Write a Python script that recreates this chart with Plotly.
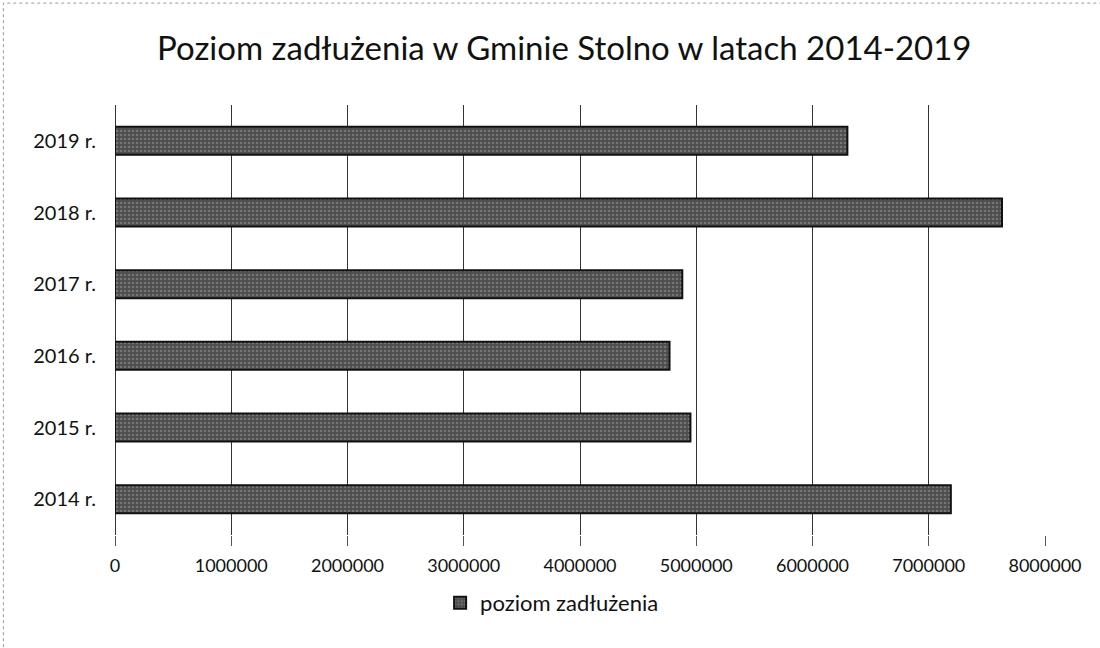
import plotly.graph_objects as go

years = ["2014 r.", "2015 r.", "2016 r.", "2017 r.", "2018 r.", "2019 r."]
debt = [7190000, 4950000, 4770000, 4880000, 7630000, 6300000]
series_name = "poziom zadłużenia"
x_ticks = [0, 1000000, 2000000, 3000000, 4000000, 5000000, 6000000, 7000000, 8000000]

font_family = "Lato, 'Open Sans', sans-serif"

fig = go.Figure()
fig.add_trace(go.Bar(
    y=years, x=debt, orientation="h", name=series_name,
    marker=dict(
        color="#4d4d4d",
        line=dict(color="#111111", width=2),
        pattern=dict(shape=".", fgcolor="#a0a0a0", bgcolor="#4d4d4d", size=4, solidity=0.35),
    ),
))

fig.update_layout(
    width=1100, height=648,
    paper_bgcolor="white", plot_bgcolor="white",
    margin=dict(l=115, r=55, t=105, b=113, autoexpand=False),
    bargap=0.61,
    showlegend=True,
    title=dict(text="Poziom zadłużenia w Gminie Stolno w latach 2014-2019",
               x=0.513, xanchor="center", y=0.926, yanchor="middle", yref="container",
               font=dict(family=font_family, size=33, color="#111111")),
    legend=dict(orientation="h", x=0.47, xanchor="center", y=-0.158, yanchor="middle",
                font=dict(family=font_family, size=22, color="#111111"),
                itemwidth=30),
    font=dict(family=font_family, color="#111111"),
    shapes=[dict(type="rect", xref="paper", yref="paper", x0=-0.12, x1=1.08, y0=-0.3, y1=1.237,
                 line=dict(color="#999999", width=1, dash="dot"))],
)
fig.update_xaxes(
    range=[0, 8000000], tickvals=x_ticks, ticktext=[str(v) for v in x_ticks],
    showgrid=True, gridcolor="#333333", gridwidth=1,
    zeroline=True, zerolinecolor="#333333", zerolinewidth=1,
    ticks="outside", ticklen=10, tickcolor="#555555",
    ticklabelstandoff=4, automargin=False,
    tickfont=dict(family=font_family, size=18, color="#111111"),
    showline=False,
)
fig.update_yaxes(
    categoryorder="array", categoryarray=years,
    showgrid=False, zeroline=False, showline=False, ticks="",
    ticklabelstandoff=18, automargin=False,
    tickfont=dict(family=font_family, size=20, color="#111111"),
)

fig.write_html("out.html", config={"displayModeBar": False},
               post_script="document.body.style.margin='0';")
